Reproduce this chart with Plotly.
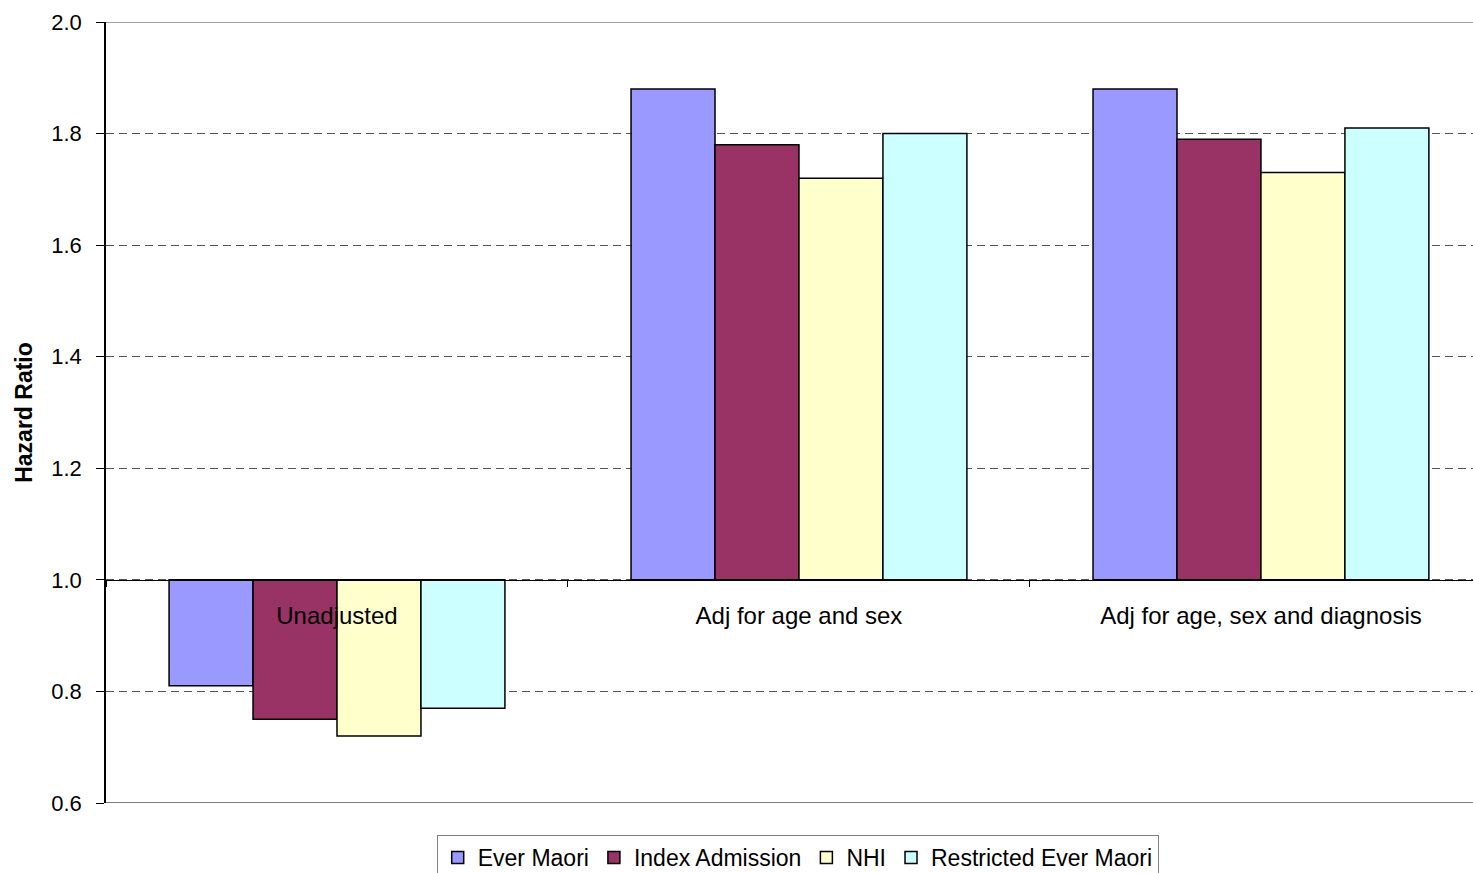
import plotly.graph_objects as go

categories = ["Unadjusted", "Adj for age and sex", "Adj for age, sex and diagnosis"]
series_names = ["Ever Maori", "Index Admission", "NHI", "Restricted Ever Maori"]
ever_maori = [0.81, 1.88, 1.88]
index_admission = [0.75, 1.78, 1.79]
nhi = [0.72, 1.72, 1.73]
restricted_ever_maori = [0.77, 1.80, 1.81]
baseline = 1.0
y_ticks = [0.6, 0.8, 1.0, 1.2, 1.4, 1.6, 1.8, 2.0]

colors = ["#9999FF", "#993366", "#FFFFCC", "#CCFFFF"]
all_series = [ever_maori, index_admission, nhi, restricted_ever_maori]

FONT = "Liberation Sans, Arial, sans-serif"
y_min, y_max = 0.6, 2.0

fig = go.Figure()
for name, vals, col in zip(series_names, all_series, colors):
    fig.add_trace(go.Bar(
        x=categories,
        y=[v - baseline for v in vals],
        base=[baseline] * len(vals),
        name=name,
        marker=dict(color=col, line=dict(color="black", width=1.5)),
    ))

fig.update_layout(
    width=1473, height=873,
    margin=dict(l=106, r=0, t=22, b=70, autoexpand=False),
    paper_bgcolor="white", plot_bgcolor="white",
    barmode="group", bargap=0.273, bargroupgap=0,
    font=dict(family=FONT, color="black", size=22),
    showlegend=True,
    legend=dict(
        orientation="h", xref="paper", x=0.506, xanchor="center",
        yref="container", y=38 / 873, yanchor="top",
        bordercolor="#808080", borderwidth=1, bgcolor="white",
        font=dict(family=FONT, size=23, color="black"),
        itemwidth=30, tracegroupgap=0,
    ),
    xaxis=dict(
        type="category", range=[-0.5, 2.459], automargin=False,
        anchor="free", position=(baseline - y_min) / (y_max - y_min),
        showline=True, linecolor="black", linewidth=1,
        ticks="outside", ticklen=6, tickcolor="black", tickson="boundaries",
        tickfont=dict(family=FONT, size=24, color="black"),
        ticklabelstandoff=14,
        showgrid=False, zeroline=False, fixedrange=True,
    ),
    yaxis=dict(
        range=[y_min, y_max], tickvals=y_ticks, tickformat=".1f", automargin=False,
        showline=True, linecolor="black", linewidth=1.5,
        ticks="outside", ticklen=8, tickcolor="black",
        tickfont=dict(family=FONT, size=22, color="black"),
        ticklabelstandoff=10,
        showgrid=True, gridcolor="#555555", gridwidth=1, griddash="8px,5px",
        zeroline=False,
        title=dict(text="<b>Hazard Ratio</b>", font=dict(family=FONT, size=23, color="black"), standoff=12),
    ),
)

# solid top and bottom borders of the plot area
for yv, w in [(y_max, 1.5), (y_min, 2)]:
    fig.add_shape(type="line", xref="paper", yref="y", x0=0, x1=1, y0=yv, y1=yv,
                  line=dict(color="#808080", width=w), layer="above")

fig.write_html("out.html")
